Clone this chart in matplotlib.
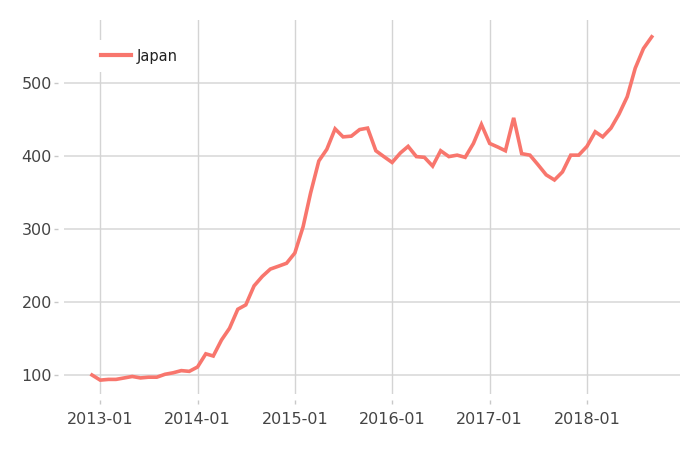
import pandas as pd
import matplotlib.dates as mdates
from matplotlib import pyplot as plt

# monthly values, 2012-12 .. 2018-09
months = pd.date_range('2012-12-01', '2018-09-01', freq='MS')
japan = [100, 93, 94, 94, 96, 98, 96, 97, 97, 101, 103, 106, 105,
         111, 129, 126, 148, 164, 190, 196, 222, 235, 245, 249, 253,
         267, 303, 349, 393, 409, 437, 426, 427, 436, 438, 407, 399,
         391, 404, 413, 399, 398, 386, 407, 399, 401, 398, 417, 443,
         417, 412, 407, 452, 403, 401, 388, 374, 367, 378, 401, 401,
         413, 433, 426, 438, 457, 481, 520, 547, 563]

tick_dates = pd.date_range('2013-01-01', '2018-01-01', freq='YS')
tick_labels = [d.strftime('%Y-%m') for d in tick_dates]
y_ticks = [100, 200, 300, 400, 500]

plt.rcParams['font.family'] = 'DejaVu Sans'

fig = plt.figure(figsize=(7, 4.5), dpi=100)
ax = fig.add_axes([64 / 700, 56 / 450, 616 / 700, 374 / 450])

ax.plot(months, japan, color='#F8766D', lw=2.6, label='Japan',
        solid_joinstyle='miter', zorder=3)

ax.set_xlim(pd.Timestamp('2012-08-18'), pd.Timestamp('2018-12-16'))
ax.set_ylim(74, 586)

ax.set_xticks(tick_dates)
ax.set_xticklabels(tick_labels)
ax.set_yticks(y_ticks)

# grid
for y in y_ticks:
    ax.axhline(y, color='#e0e0e0', lw=1.4, zorder=1)
for d in tick_dates:
    ax.axvline(d, color='#d4d4d4', lw=1.0, zorder=1)

for s in ax.spines.values():
    s.set_visible(False)
ax.spines['bottom'].set_position(('outward', 4.5))
ax.spines['left'].set_position(('outward', 4.3))
ax.tick_params(axis='both', length=3, width=1, color='#c8c8c8',
               labelcolor='#444444', labelsize=11.5)
ax.tick_params(axis='y', pad=1.5)
ax.tick_params(axis='x', pad=5.5)

leg = ax.legend(loc='center left', bbox_to_anchor=(92 / 700, 1 - 56 / 450),
                bbox_transform=fig.transFigure, frameon=True, fontsize=10.5,
                handlelength=2.05, handletextpad=0.4, borderpad=0.6,
                borderaxespad=0)
leg.get_frame().set_facecolor('white')
leg.get_frame().set_edgecolor('none')
leg.get_frame().set_alpha(1)
for t in leg.get_texts():
    t.set_color('#222222')
for line in leg.get_lines():
    line.set_linewidth(3)

fig.savefig('out.png', dpi=100)
